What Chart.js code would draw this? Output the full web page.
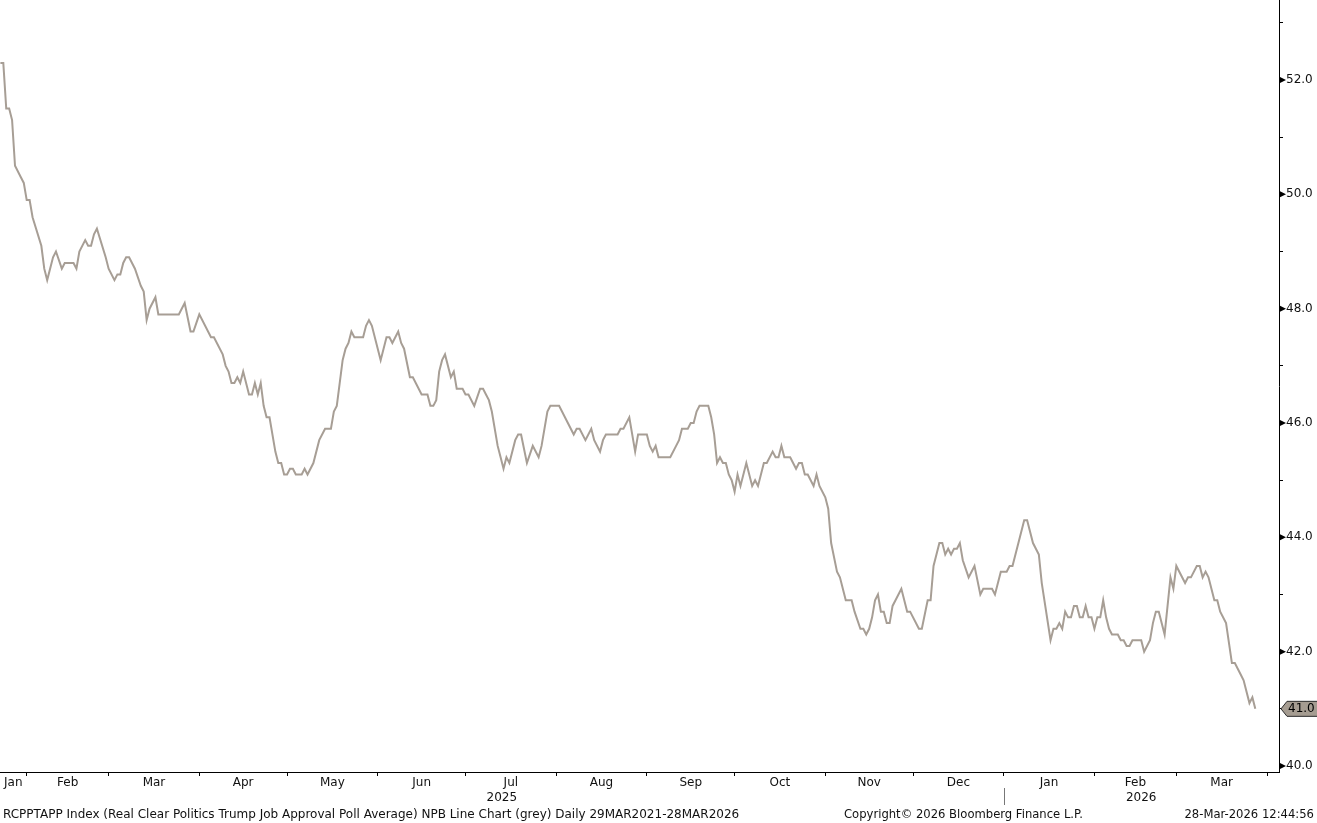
<!DOCTYPE html>
<html lang="en">
  <head>
    <meta charset="UTF-8" />
    <title>RCPPTAPP Index</title>
    <script src="https://cdn.jsdelivr.net/npm/chart.js@4.4.1/dist/chart.umd.min.js"></script>
    <style>
      html,
      body {
        margin: 0;
        padding: 0;
        background: #fff;
      }
      #wrap {
        position: relative;
        width: 1317px;
        height: 823px;
      }
      .foot {
        position: absolute;
        top: 807px;
        font-family: "DejaVu Sans", sans-serif;
        font-size: 11.6px;
        color: #111;
        white-space: nowrap;
      }
    </style>
  </head>
  <body>
    <div id="wrap">
      <canvas id="approvalChart" width="1317" height="823"></canvas>
      <div class="foot" style="left: 3px; font-size: 12px">
        RCPPTAPP Index (Real Clear Politics Trump Job Approval Poll Average) NPB Line Chart (grey) Daily 29MAR2021-28MAR2026
      </div>
      <div class="foot" style="left: 844px">Copyright© 2026 Bloomberg Finance L.P.</div>
      <div class="foot" style="right: 3px">28-Mar-2026 12:44:56</div>
    </div>

    <script>
      // day numbers counted from 1 Jan 2025 (day 0)
      const days = [
        22, 23, 24, 25, 26, 27, 29, 30, 31, 32, 33, 36, 37, 38, 40, 41, 43, 44, 47, 48,
        49, 51, 52, 53, 54, 55, 58, 59, 61, 62, 63, 64, 65, 66, 68, 70, 71, 72, 73, 75,
        76, 83, 85, 87, 88, 90, 94, 95, 98, 99, 100, 101, 102, 103, 104, 105, 107, 108, 109, 110,
        111, 112, 113, 114, 116, 117, 118, 119, 120, 121, 122, 123, 125, 126, 127, 129, 131, 133, 135, 136,
        137, 139, 140, 141, 142, 143, 146, 147, 148, 149, 152, 154, 155, 156, 158, 159, 160, 162, 163, 166,
        168, 169, 170, 171, 172, 173, 174, 176, 177, 178, 180, 181, 182, 184, 186, 187, 188, 189, 190, 192,
        193, 194, 195, 196, 198, 199, 200, 202, 204, 206, 207, 209, 210, 213, 216, 218, 219, 220, 222, 224,
        225, 227, 228, 229, 233, 234, 235, 237, 239, 240, 243, 244, 245, 246, 247, 251, 253, 254, 255, 257,
        258, 259, 260, 261, 264, 265, 266, 267, 268, 269, 270, 271, 272, 273, 274, 275, 277, 279, 280, 281,
        283, 284, 286, 287, 288, 289, 290, 292, 294, 295, 296, 297, 298, 300, 301, 302, 304, 305, 306, 308,
        309, 311, 313, 314, 316, 317, 318, 319, 320, 321, 322, 323, 324, 325, 326, 327, 328, 330, 332, 333,
        336, 337, 339, 340, 341, 343, 344, 345, 346, 347, 348, 349, 350, 351, 353, 355, 357, 358, 361, 362,
        364, 366, 367, 368, 372, 373, 375, 377, 378, 381, 382, 383, 384, 385, 386, 387, 388, 389, 390, 391,
        392, 393, 394, 395, 396, 397, 398, 399, 400, 401, 402, 404, 405, 406, 407, 408, 409, 412, 413, 415,
        416, 417, 418, 420, 422, 423, 424, 427, 428, 429, 431, 432, 433, 434, 435, 437, 438, 439, 441, 443,
        444, 446, 447, 449, 450, 451
      ];

      const approval = [
        52.3, 52.3, 51.5, 51.5, 51.3, 50.5, 50.3, 50.2, 49.9, 49.9, 49.6, 49.1, 48.7, 48.5, 48.9, 49.0, 48.7, 48.8, 48.8, 48.7,
        49.0, 49.2, 49.1, 49.1, 49.3, 49.4, 48.9, 48.7, 48.5, 48.6, 48.6, 48.8, 48.9, 48.9, 48.7, 48.4, 48.3, 47.8, 48.0, 48.2,
        47.9, 47.9, 48.1, 47.6, 47.6, 47.9, 47.5, 47.5, 47.2, 47.0, 46.9, 46.7, 46.7, 46.8, 46.7, 46.9, 46.5, 46.5, 46.7, 46.5,
        46.7, 46.3, 46.1, 46.1, 45.5, 45.3, 45.3, 45.1, 45.1, 45.2, 45.2, 45.1, 45.1, 45.2, 45.1, 45.3, 45.7, 45.9, 45.9, 46.2,
        46.3, 47.1, 47.3, 47.4, 47.6, 47.5, 47.5, 47.7, 47.8, 47.7, 47.1, 47.5, 47.5, 47.4, 47.6, 47.4, 47.3, 46.8, 46.8, 46.5,
        46.5, 46.3, 46.3, 46.4, 46.9, 47.1, 47.2, 46.8, 46.9, 46.6, 46.6, 46.5, 46.5, 46.3, 46.6, 46.6, 46.5, 46.4, 46.2, 45.6,
        45.4, 45.2, 45.4, 45.3, 45.7, 45.8, 45.8, 45.3, 45.6, 45.4, 45.6, 46.2, 46.3, 46.3, 46.0, 45.8, 45.9, 45.9, 45.7, 45.9,
        45.7, 45.5, 45.7, 45.8, 45.8, 45.9, 45.9, 46.1, 45.5, 45.8, 45.8, 45.6, 45.5, 45.6, 45.4, 45.4, 45.6, 45.7, 45.9, 45.9,
        46.0, 46.0, 46.2, 46.3, 46.3, 46.1, 45.8, 45.3, 45.4, 45.3, 45.3, 45.1, 45.0, 44.8, 45.1, 44.9, 45.3, 44.9, 45.0, 44.9,
        45.3, 45.3, 45.5, 45.4, 45.4, 45.6, 45.4, 45.4, 45.2, 45.3, 45.3, 45.1, 45.1, 44.9, 45.1, 44.9, 44.7, 44.5, 43.9, 43.4,
        43.3, 42.9, 42.9, 42.7, 42.4, 42.4, 42.3, 42.4, 42.6, 42.9, 43.0, 42.7, 42.7, 42.5, 42.5, 42.8, 42.9, 43.1, 42.7, 42.7,
        42.4, 42.4, 42.9, 42.9, 43.5, 43.9, 43.9, 43.7, 43.8, 43.7, 43.8, 43.8, 43.9, 43.6, 43.3, 43.5, 43.0, 43.1, 43.1, 43.0,
        43.4, 43.4, 43.5, 43.5, 44.3, 44.3, 43.9, 43.7, 43.2, 42.2, 42.4, 42.4, 42.5, 42.4, 42.7, 42.6, 42.6, 42.8, 42.8, 42.6,
        42.6, 42.8, 42.6, 42.6, 42.4, 42.6, 42.6, 42.9, 42.6, 42.4, 42.3, 42.3, 42.2, 42.2, 42.1, 42.1, 42.2, 42.2, 42.0, 42.2,
        42.5, 42.7, 42.7, 42.3, 43.3, 43.1, 43.5, 43.2, 43.3, 43.3, 43.5, 43.5, 43.3, 43.4, 43.3, 42.9, 42.9, 42.7, 42.5, 41.8,
        41.8, 41.6, 41.5, 41.1, 41.2, 41.0
      ];

      const monthStarts = [31, 59, 90, 120, 151, 181, 212, 243, 273, 304, 334, 365, 396, 424, 455];
      const monthMids = [26.4, 45, 74.5, 105, 135.5, 166, 196.5, 227.5, 258, 288.5, 319, 349.5, 380.5, 410, 439.5];
      const monthNames = ["Jan", "Feb", "Mar", "Apr", "May", "Jun", "Jul", "Aug", "Sep", "Oct", "Nov", "Dec", "Jan", "Feb", "Mar"];
      const yearMids = [193.4, 412];
      const yearNames = ["2025", "2026"];
      const yearBreak = 365;
      const yTicks = [40, 41, 42, 43, 44, 45, 46, 47, 48, 49, 50, 51, 52, 53];

      const xMin = 21.87;
      const xMax = 459.1;
      const yMin = 39.895;
      const yMax = 53.4;
      const lastValue = approval[approval.length - 1];

      const lineColor = "#a79e95";
      const axisFont = { family: "DejaVu Sans", size: 12 };

      const points = days.map((d, i) => ({ x: d, y: approval[i] }));

      // triangles on the right axis, the last value tag and the year divider
      const extras = {
        id: "extras",
        afterDraw(chart) {
          const ctx = chart.ctx;
          const y = chart.scales.y;
          const x = chart.scales.x;
          const axisX = y.left;
          ctx.save();
          ctx.fillStyle = "#000";
          yTicks.forEach((v) => {
            if (v % 2 !== 0) return;
            const py = y.getPixelForValue(v);
            ctx.beginPath();
            ctx.moveTo(axisX, py - 3.5);
            ctx.lineTo(axisX + 7, py);
            ctx.lineTo(axisX, py + 3.5);
            ctx.closePath();
            ctx.fill();
          });

          const ty = y.getPixelForValue(lastValue);
          ctx.beginPath();
          ctx.moveTo(axisX + 2, ty);
          ctx.lineTo(axisX + 8, ty - 7.5);
          ctx.lineTo(chart.width + 2, ty - 7.5);
          ctx.lineTo(chart.width + 2, ty + 7.5);
          ctx.lineTo(axisX + 8, ty + 7.5);
          ctx.closePath();
          ctx.fillStyle = "#a59c91";
          ctx.fill();
          ctx.strokeStyle = "#2b2b2b";
          ctx.lineWidth = 1;
          ctx.stroke();
          ctx.fillStyle = "#000";
          ctx.font = "12px 'DejaVu Sans'";
          ctx.textBaseline = "middle";
          ctx.textAlign = "left";
          ctx.fillText(lastValue.toFixed(1), axisX + 9, ty + 0.5);

          const bx = Math.round(x.getPixelForValue(yearBreak)) + 0.5;
          ctx.strokeStyle = "#777";
          ctx.beginPath();
          ctx.moveTo(bx, x.bottom + 12);
          ctx.lineTo(bx, x.bottom + 29);
          ctx.stroke();
          ctx.restore();
        },
      };

      const noPad = (s) => {
        s.paddingLeft = 0;
        s.paddingRight = 0;
        s.paddingTop = 0;
        s.paddingBottom = 0;
      };

      const labelAxis = (weight, values, names, height) => ({
        type: "linear",
        position: "bottom",
        weight: weight,
        min: xMin,
        max: xMax,
        afterBuildTicks: (s) => {
          s.ticks = values.map((v) => ({ value: v }));
        },
        ticks: {
          callback: (v, i) => names[i],
          autoSkip: false,
          maxRotation: 0,
          padding: 0,
          color: "#111",
          font: axisFont,
        },
        grid: { display: false, drawTicks: false, tickLength: 0 },
        border: { display: false },
        afterFit: (s) => {
          s.height = height;
          noPad(s);
        },
      });

      const config = {
        type: "line",
        data: {
          datasets: [
            {
              label: "RCPPTAPP",
              data: points,
              borderColor: lineColor,
              borderWidth: 2,
              pointRadius: 0,
              tension: 0,
              fill: false,
              xAxisID: "x",
              yAxisID: "y",
            },
          ],
        },
        options: {
          responsive: false,
          animation: false,
          devicePixelRatio: 1,
          layout: { padding: { left: 0, right: 0, top: 0, bottom: 16 } },
          plugins: { legend: { display: false }, tooltip: { enabled: false } },
          scales: {
            x: {
              type: "linear",
              position: "bottom",
              weight: 0,
              min: xMin,
              max: xMax,
              afterBuildTicks: (s) => {
                s.ticks = monthStarts.map((v) => ({ value: v }));
              },
              ticks: { callback: () => "", autoSkip: false, maxRotation: 0, padding: 0 },
              grid: { drawOnChartArea: false, drawTicks: true, tickLength: 4, color: "#000" },
              border: { display: true, color: "#000", width: 1 },
              afterFit: (s) => {
                s.height = 4;
                noPad(s);
              },
            },
            xm: labelAxis(1, monthMids, monthNames, 15),
            xy: labelAxis(2, yearMids, yearNames, 16),
            y: {
              position: "right",
              min: yMin,
              max: yMax,
              afterBuildTicks: (s) => {
                s.ticks = yTicks.map((v) => ({ value: v }));
              },
              ticks: {
                callback: (v) => (v % 2 === 0 ? v.toFixed(1) : ""),
                padding: 3,
                color: "#111",
                font: axisFont,
              },
              grid: { drawOnChartArea: false, drawTicks: true, tickLength: 4, color: "#000" },
              border: { display: true, color: "#000", width: 1 },
              afterFit: (s) => {
                s.width = 38;
                noPad(s);
              },
            },
          },
        },
        plugins: [extras],
      };

      const approvalChart = new Chart(document.getElementById("approvalChart"), config);
    </script>
  </body>
</html>
